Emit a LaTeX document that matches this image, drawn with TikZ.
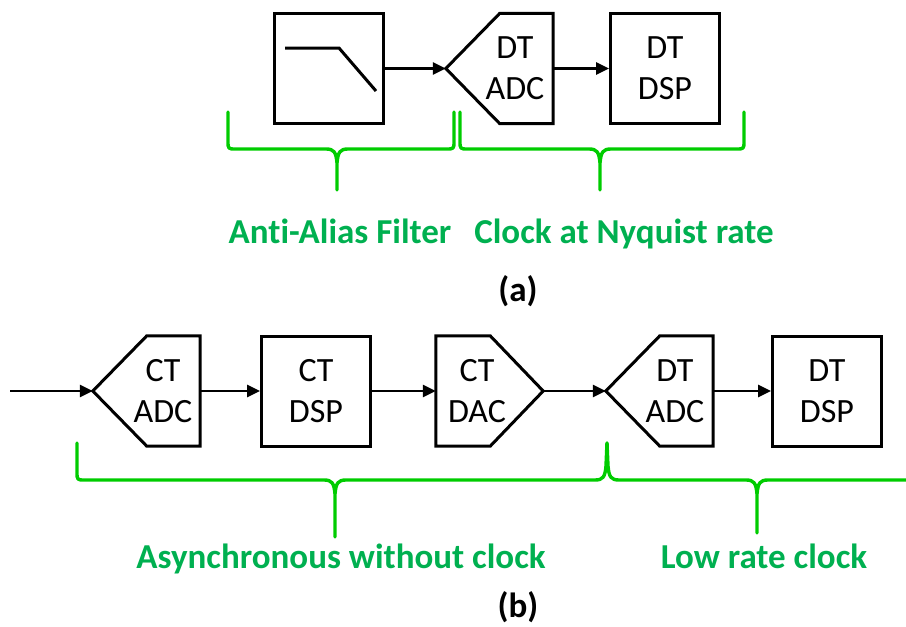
\documentclass[tikz,border=0pt]{standalone}
\usepackage{fontspec}
\setmainfont[Ligatures=NoCommon]{Carlito}
\usetikzlibrary{arrows.meta}
\definecolor{bracegreen}{HTML}{00CC00}
\definecolor{textgreen}{HTML}{00B050}
\tikzset{
  blk/.style={draw, line width=3pt, minimum width=109pt, minimum height=110pt, inner sep=0pt,
              font=\fontsize{34}{41}\selectfont, align=center},
  convbox/.style={minimum width=107pt, minimum height=110pt, inner sep=0pt},
  convline/.style={line width=3pt, line join=miter},
  convtext/.style={font=\fontsize{34}{41}\selectfont, align=center, inner sep=0pt},
  arr/.style={line width=2.8pt, -{Triangle[length=13pt,width=12pt]}},
  brc/.style={draw=bracegreen, line width=3.4pt, line join=round, line cap=round},
  lbl/.style={text=textgreen, font=\fontsize{35}{40}\bfseries\selectfont, inner sep=0pt, anchor=base},
  figcap/.style={font=\fontsize{35}{40}\bfseries\selectfont, inner sep=0pt}
}
\begin{document}
\begin{tikzpicture}[x=1pt,y=-1pt]
\useasboundingbox (0,0) rectangle (906,627);

% ---------------- (a) ----------------
\node[blk] (filt) at (328.5,68.5) {};
\draw[line width=3pt] (285,48) -- (339,48) -- (376,91);

\node[convbox] (adca) at (499.5,68.5) {};
\draw[convline] (adca.west) -- ([xshift=54pt]adca.north west) -- (adca.north east)
  -- (adca.south east) -- ([xshift=54pt]adca.south west) -- cycle;
\node[convtext] (adcat) at (515,68.5) {DT\\ADC};

\node[blk] (dspa) at (665,68.5) {DT\\DSP};

\draw[arr] (filt.east) -- (adca.west);
\draw[arr] (adca.east) -- (dspa.west);

% braces (a)
\draw[brc] (228,112) -- (228,141) .. controls (228,149) .. (236,149) -- (326,149)
  .. controls (334,149) and (336,152) .. (337,163) -- (337,190)
  -- (337,163) .. controls (338,152) and (340,149) .. (348,149)
  -- (446,149) .. controls (454,149) .. (454,141) -- (454,112);
\draw[brc] (460,112) -- (460,141) .. controls (460,149) .. (468,149) -- (589,149)
  .. controls (597,149) and (599,152) .. (600,163) -- (600,190)
  -- (600,163) .. controls (601,152) and (603,149) .. (611,149)
  -- (736,149) .. controls (744,149) .. (744,141) -- (744,112);

\node[lbl] (lblaa) at (340,243) {Anti-Alias Filter};
\node[lbl] (lblab) at (624,243) {Clock at Nyquist rate};
\node[figcap] (capa) at (518,291) {(a)};

% ---------------- (b) ----------------
\coordinate (inb) at (10,391);
\node[convbox] (adcb) at (146.5,391) {};
\draw[convline] (adcb.west) -- ([xshift=54pt]adcb.north west) -- (adcb.north east)
  -- (adcb.south east) -- ([xshift=54pt]adcb.south west) -- cycle;
\node[convtext] (adcbt) at (163,391) {CT\\ADC};

\node[blk] (dspb) at (316,391) {CT\\DSP};

\node[convbox] (dacb) at (489.5,391) {};
\draw[convline] (dacb.north west) -- ([xshift=-53pt]dacb.north east) -- (dacb.east)
  -- ([xshift=-53pt]dacb.south east) -- (dacb.south west) -- cycle;
\node[convtext] (dacbt) at (477,391) {CT\\DAC};

\node[convbox] (adcc) at (659.5,391) {};
\draw[convline] (adcc.west) -- ([xshift=54pt]adcc.north west) -- (adcc.north east)
  -- (adcc.south east) -- ([xshift=54pt]adcc.south west) -- cycle;
\node[convtext] (adcct) at (675,391) {DT\\ADC};

\node[blk] (dspc) at (827,391) {DT\\DSP};

\draw[arr] (inb) -- (adcb.west);
\draw[arr] (adcb.east) -- (dspb.west);
\draw[arr] (dspb.east) -- (dacb.west);
\draw[arr] (dacb.east) -- (adcc.west);
\draw[arr] (adcc.east) -- (dspc.west);

% braces (b)
\draw[brc] (77,443) -- (77,472) .. controls (77,480) .. (85,480) -- (324,480)
  .. controls (332,480) and (334,483) .. (335,494) -- (335,537)
  -- (335,494) .. controls (336,483) and (338,480) .. (346,480)
  -- (595,480) .. controls (603,480) and (605,477) .. (606,466) -- (607,443);
\draw[brc] (607,443) -- (608,466) .. controls (609,477) and (611,480) .. (619,480)
  -- (746,480) .. controls (754,480) and (756,483) .. (757,494) -- (757,533)
  -- (757,494) .. controls (758,483) and (760,480) .. (768,480) -- (920,480);

\node[lbl] (lblba) at (341,568) {Asynchronous without clock};
\node[lbl] (lblbb) at (764,568) {Low rate clock};
\node[figcap] (capb) at (518,607) {(b)};
\end{tikzpicture}
\end{document}
